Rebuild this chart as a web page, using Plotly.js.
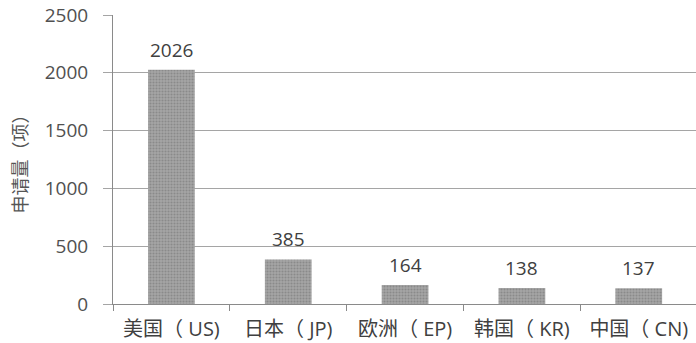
<!DOCTYPE html>
<html>
<head>
<meta charset="utf-8">
<script src="https://cdn.plot.ly/plotly-3.0.1.min.js"></script>
<style>
  html, body { margin: 0; padding: 0; background: #fff; }
  #chart { width: 696px; height: 343px; }
</style>
</head>
<body>
<div id="chart"></div>
<script>
// Patent applications by filing office
const offices = ['美国（ US)', '日本（ JP)', '欧洲（ EP)', '韩国（ KR)', '中国（ CN)'];
const applications = [2026, 385, 164, 138, 137];
const yTicks = [0, 500, 1000, 1500, 2000, 2500];

const FONT = '"Open Sans", "Noto Sans CJK SC", sans-serif';
const CJK = '"Noto Sans CJK SC", sans-serif';

const trace = {
  type: 'bar',
  x: offices,
  y: applications,
  width: 0.4,
  marker: {
    color: '#a0a0a0',
    line: { width: 0 },
    pattern: { shape: '.', bgcolor: '#a6a6a6', fgcolor: '#8a8a8a', size: 3, solidity: 0.4 }
  },
  hoverinfo: 'x+y'
};

// value labels above each bar
const labels = offices.map((o, i) => ({
  x: o, y: applications[i], xref: 'x', yref: 'y',
  text: String(applications[i]),
  showarrow: false, yanchor: 'bottom', yshift: 5,
  font: { family: FONT, size: 19, color: '#404040' }
}));

const layout = {
  width: 696, height: 343,
  margin: { l: 113, r: 0, t: 15, b: 39, pad: 0 },
  paper_bgcolor: '#fff', plot_bgcolor: '#fff',
  showlegend: false,
  font: { family: FONT, size: 19, color: '#555' },
  xaxis: {
    type: 'category',
    range: [-0.5, 4.49],
    showgrid: false,
    showline: true, linecolor: '#8a8a8a', linewidth: 1,
    ticks: 'outside', tickson: 'boundaries', ticklen: 6, tickcolor: '#8a8a8a',
    ticklabelstandoff: 7,
    tickfont: { family: FONT, size: 20, color: '#404040' },
    fixedrange: true
  },
  yaxis: {
    range: [0, 2500],
    tickvals: yTicks,
    ticktext: yTicks.map(String),
    showgrid: true, gridcolor: '#a5a5a5', gridwidth: 1,
    zeroline: false,
    showline: true, linecolor: '#8a8a8a', linewidth: 1,
    ticks: 'outside', ticklen: 9, tickcolor: '#a5a5a5',
    ticklabelstandoff: 11,
    tickfont: { family: FONT, size: 19, color: '#505050' },
    title: { text: '申请量（项）', standoff: 12, font: { family: CJK, size: 18, color: '#555' } },
    automargin: false,
    fixedrange: true
  },
  annotations: labels
};

Plotly.newPlot('chart', [trace], layout, { displayModeBar: false, staticPlot: true });
</script>
</body>
</html>
